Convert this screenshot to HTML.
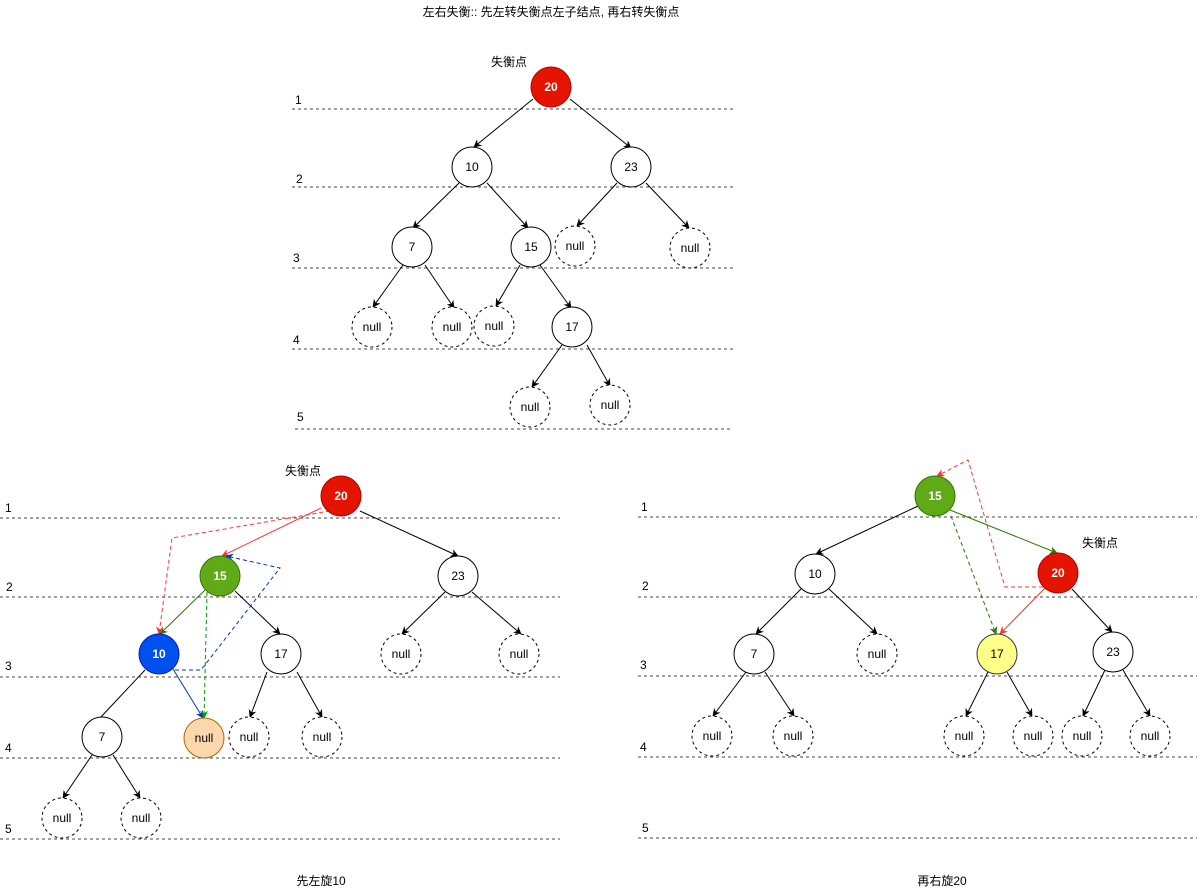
<!DOCTYPE html>
<html><head><meta charset="utf-8"><style>
html,body{margin:0;padding:0;background:#fff;}
svg text{font-family:"Liberation Sans","Noto Sans CJK SC",sans-serif;font-size:12px;fill:#000;}
</style></head><body>
<svg width="1203" height="891" viewBox="0 0 1203 891" xmlns="http://www.w3.org/2000/svg">
<defs>
<marker id="mk" viewBox="0 0 10 10" refX="9" refY="5" markerWidth="8" markerHeight="8" orient="auto"><path d="M0,0 L10,5 L0,10 L3,5z" fill="#000"/></marker>
<marker id="mr" viewBox="0 0 10 10" refX="9" refY="5" markerWidth="8" markerHeight="8" orient="auto"><path d="M0,0 L10,5 L0,10 L3,5z" fill="#ff3333"/></marker>
<marker id="mg" viewBox="0 0 10 10" refX="9" refY="5" markerWidth="8" markerHeight="8" orient="auto"><path d="M0,0 L10,5 L0,10 L3,5z" fill="#2d7600"/></marker>
<marker id="mg2" viewBox="0 0 10 10" refX="9" refY="5" markerWidth="8" markerHeight="8" orient="auto"><path d="M0,0 L10,5 L0,10 L3,5z" fill="#009900"/></marker>
<marker id="mb" viewBox="0 0 10 10" refX="9" refY="5" markerWidth="8" markerHeight="8" orient="auto"><path d="M0,0 L10,5 L0,10 L3,5z" fill="#0033cc"/></marker>
</defs>
<g stroke="#444" stroke-dasharray="3,3" stroke-width="1">
<line x1="292" y1="109" x2="733" y2="109"/><line x1="292" y1="187" x2="735" y2="187"/><line x1="292" y1="268" x2="733" y2="268"/><line x1="292" y1="349" x2="733" y2="349"/><line x1="295" y1="429" x2="730" y2="429"/>
<line x1="0" y1="518" x2="560" y2="518"/><line x1="0" y1="597" x2="560" y2="597"/><line x1="0" y1="677" x2="560" y2="677"/><line x1="0" y1="758" x2="560" y2="758"/><line x1="0" y1="839" x2="560" y2="839"/>
<line x1="638" y1="517" x2="1197" y2="517"/><line x1="638" y1="597" x2="1197" y2="597"/><line x1="638" y1="676" x2="1197" y2="676"/><line x1="638" y1="757" x2="1197" y2="757"/><line x1="638" y1="838" x2="1197" y2="838"/>
</g>
<g font-size="11">
<text x="295" y="104">1</text><text x="296" y="183">2</text><text x="293" y="262">3</text><text x="293" y="344">4</text><text x="297" y="421">5</text>
<text x="5" y="512">1</text><text x="6" y="591">2</text><text x="5" y="670">3</text><text x="5" y="752">4</text><text x="5" y="833">5</text>
<text x="641" y="511">1</text><text x="642" y="590">2</text><text x="640" y="669">3</text><text x="640" y="751">4</text><text x="642" y="832">5</text>
</g>
<text x="551" y="16" text-anchor="middle" font-size="11">左右失衡:: 先左转失衡点左子结点, 再右转失衡点</text>
<text x="509" y="66" text-anchor="middle">失衡点</text>
<text x="303" y="475" text-anchor="middle">失衡点</text>
<text x="1100" y="547" text-anchor="middle">失衡点</text>
<text x="321" y="885" text-anchor="middle">先左旋10</text>
<text x="942" y="885" text-anchor="middle">再右旋20</text>
<!-- edges black -->
<g stroke="#000" stroke-width="1" marker-end="url(#mk)">
<line x1="533" y1="99" x2="474" y2="147"/><line x1="570" y1="99" x2="631" y2="148"/>
<line x1="459" y1="183" x2="413" y2="228"/><line x1="487" y1="183" x2="528" y2="228"/>
<line x1="617" y1="183" x2="577" y2="226"/><line x1="646" y1="183" x2="689" y2="228"/>
<line x1="403" y1="265" x2="373" y2="307"/><line x1="425" y1="265" x2="454" y2="308"/>
<line x1="520" y1="265" x2="496" y2="306"/><line x1="540" y1="265" x2="571" y2="308"/>
<line x1="562" y1="345" x2="532" y2="387"/><line x1="587" y1="345" x2="610" y2="386"/>
<line x1="360" y1="511" x2="458" y2="556"/><line x1="235" y1="591" x2="280" y2="634"/>
<line x1="445" y1="592" x2="402" y2="634"/><line x1="472" y1="592" x2="521" y2="634"/>
<line x1="267" y1="672" x2="250" y2="717"/><line x1="297" y1="672" x2="322" y2="717"/>
<line x1="92" y1="755" x2="63" y2="798"/><line x1="113" y1="755" x2="140" y2="798"/>
<line x1="918" y1="506" x2="816" y2="554"/><line x1="1072" y1="589" x2="1112" y2="632"/>
<line x1="801" y1="589" x2="756" y2="634"/><line x1="829" y1="589" x2="877" y2="634"/>
<line x1="746" y1="672" x2="713" y2="716"/><line x1="765" y1="672" x2="794" y2="716"/>
<line x1="988" y1="672" x2="966" y2="716"/><line x1="1007" y1="672" x2="1032" y2="716"/>
<line x1="1105" y1="670" x2="1083" y2="716"/><line x1="1123" y1="670" x2="1150" y2="716"/>
</g>
<line x1="145" y1="670" x2="100" y2="718" stroke="#000"/>
<line x1="321" y1="508" x2="222" y2="556" stroke="#ff3333" marker-end="url(#mr)"/>
<line x1="205" y1="590" x2="160" y2="634" stroke="#2d7600" marker-end="url(#mg)"/>
<line x1="173" y1="669" x2="203" y2="718" stroke="#0033cc" marker-end="url(#mb)"/>
<polyline points="330,511 172,538 159,634" fill="none" stroke="#ff3333" stroke-dasharray="4,3" marker-end="url(#mr)"/>
<line x1="207" y1="592" x2="204" y2="718" stroke="#009900" stroke-dasharray="4,3" marker-end="url(#mg2)"/>
<polyline points="175,670 201,670 280,568 226,556" fill="none" stroke="#0033cc" stroke-dasharray="4,3" marker-end="url(#mb)"/>
<line x1="950" y1="510" x2="1057" y2="553" stroke="#2d7600" marker-end="url(#mg)"/>
<line x1="1045" y1="588" x2="1000" y2="634" stroke="#ff3333" marker-end="url(#mr)"/>
<line x1="951" y1="516" x2="996" y2="634" stroke="#2d7600" stroke-dasharray="4,3" marker-end="url(#mg)"/>
<polyline points="1043,587 1005,587 968,460 937,476" fill="none" stroke="#ff3333" stroke-dasharray="4,3" marker-end="url(#mr)"/>
<!-- nodes -->
<g stroke="#000" fill="#fff">
<circle cx="472" cy="167" r="20"/><circle cx="631" cy="167" r="20"/><circle cx="412" cy="247" r="20"/><circle cx="531" cy="247" r="20"/><circle cx="572" cy="327" r="20"/>
<circle cx="458" cy="576" r="20"/><circle cx="281" cy="654" r="20"/><circle cx="102" cy="737" r="20"/>
<circle cx="815" cy="574" r="20"/><circle cx="754" cy="654" r="20"/><circle cx="1113" cy="652" r="20"/>
</g>
<g stroke="#000" fill="#fff" stroke-dasharray="3,3">
<circle cx="575" cy="246" r="20"/><circle cx="690" cy="248" r="20"/><circle cx="372" cy="327" r="20"/><circle cx="452" cy="327" r="20"/><circle cx="494" cy="326" r="20"/><circle cx="530" cy="407" r="20"/><circle cx="610" cy="405" r="20"/>
<circle cx="401" cy="654" r="20"/><circle cx="519" cy="654" r="20"/><circle cx="249" cy="737" r="20"/><circle cx="322" cy="737" r="20"/><circle cx="62" cy="818" r="20"/><circle cx="141" cy="818" r="20"/>
<circle cx="877" cy="654" r="20"/><circle cx="712" cy="736" r="20"/><circle cx="793" cy="736" r="20"/><circle cx="964" cy="736" r="20"/><circle cx="1033" cy="736" r="20"/><circle cx="1082" cy="736" r="20"/><circle cx="1150" cy="736" r="20"/>
</g>
<circle cx="551" cy="87" r="20" fill="#e51400" stroke="#b20000"/>
<circle cx="341" cy="496" r="20" fill="#e51400" stroke="#b20000"/>
<circle cx="220" cy="576" r="20" fill="#60a917" stroke="#2d7600"/>
<circle cx="159" cy="654" r="20" fill="#0050ef" stroke="#001dbc"/>
<circle cx="204" cy="738" r="20" fill="#fad7ac" stroke="#b46504"/>
<circle cx="935" cy="496" r="20" fill="#60a917" stroke="#2d7600"/>
<circle cx="1058" cy="573" r="20" fill="#e51400" stroke="#b20000"/>
<circle cx="997" cy="654" r="20" fill="#ffff88" stroke="#36393d"/>
<g text-anchor="middle" font-size="11">
<text x="472" y="171">10</text><text x="631" y="171">23</text><text x="412" y="251">7</text><text x="531" y="251">15</text><text x="572" y="331">17</text>
<text x="575" y="250">null</text><text x="690" y="252">null</text><text x="372" y="331">null</text><text x="452" y="331">null</text><text x="494" y="330">null</text><text x="530" y="411">null</text><text x="610" y="409">null</text>
<text x="458" y="580">23</text><text x="281" y="658">17</text><text x="102" y="741">7</text>
<text x="401" y="658">null</text><text x="519" y="658">null</text><text x="249" y="741">null</text><text x="322" y="741">null</text><text x="62" y="822">null</text><text x="141" y="822">null</text><text x="204" y="742">null</text>
<text x="815" y="578">10</text><text x="754" y="658">7</text><text x="1113" y="656">23</text><text x="997" y="658">17</text>
<text x="877" y="658">null</text><text x="712" y="740">null</text><text x="793" y="740">null</text><text x="964" y="740">null</text><text x="1033" y="740">null</text><text x="1082" y="740">null</text><text x="1150" y="740">null</text>
</g>
<g text-anchor="middle" font-size="11" font-weight="bold">
<text x="551" y="91" style="fill:#fff">20</text><text x="341" y="500" style="fill:#fff">20</text><text x="220" y="580" style="fill:#fff">15</text><text x="159" y="658" style="fill:#fff">10</text>
<text x="935" y="500" style="fill:#fff">15</text><text x="1058" y="577" style="fill:#fff">20</text>
</g>
</svg>
</body></html>
